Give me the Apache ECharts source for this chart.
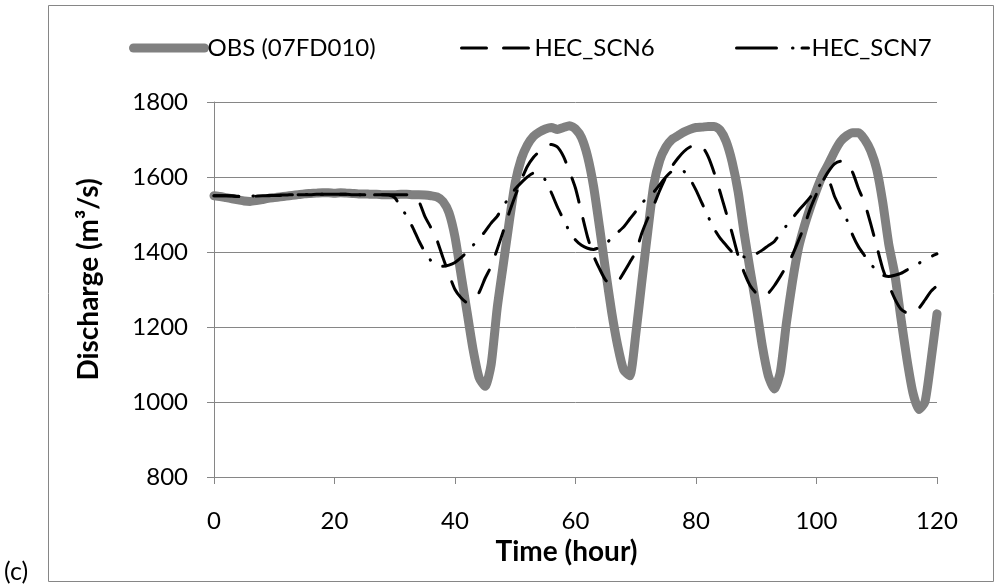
<!DOCTYPE html>
<html>
<head>
<meta charset="utf-8">
<script src="https://cdn.jsdelivr.net/npm/echarts@6/dist/echarts.min.js"></script>
<style>html,body{margin:0;padding:0;background:#fff}#c{width:997px;height:588px}</style>
</head>
<body>
<div id="c"></div>
<script>
var hours = [0,1,2,3,4,5,6,7,8,9,10,11,12,13,14,15,16,17,18,19,20,21,22,23,24,25,26,27,28,29,30,31,32,33,34,35,36,37,38,39,40,41,42,43,44,45,46,47,48,49,50,51,52,53,54,55,56,57,58,59,60,61,62,63,64,65,66,67,68,69,70,71,72,73,74,75,76,77,78,79,80,81,82,83,84,85,86,87,88,89,90,91,92,93,94,95,96,97,98,99,100,101,102,103,104,105,106,107,108,109,110,111,112,113,114,115,116,117,118,119,120];

var obs = [1550,1548,1545,1542,1539,1536,1535,1537,1540,1543,1545,1547,1549,1551,1553,1555,1556,1557,1558,1558,1557,1558,1557,1556,1555,1555,1554,1554,1553,1553,1553,1554,1554,1553,1553,1552,1550,1547,1535,1505,1440,1340,1240,1140,1065,1042,1100,1250,1365,1480,1585,1648,1685,1708,1720,1728,1732,1727,1732,1737,1728,1705,1655,1575,1465,1350,1240,1150,1085,1070,1180,1320,1455,1580,1645,1680,1700,1710,1720,1727,1732,1733,1735,1735,1725,1695,1640,1560,1450,1350,1255,1150,1070,1035,1080,1210,1320,1410,1470,1520,1565,1605,1635,1668,1695,1710,1718,1718,1700,1670,1620,1532,1420,1340,1225,1115,1025,980,1000,1110,1235];

var scn6 = [1550,1550,1550,1549,1548,1548,1548,1549,1550,1550,1551,1551,1552,1552,1553,1553,1553,1554,1554,1554,1554,1554,1554,1553,1553,1553,1553,1553,1553,1553,1553,1553,1553,1548,1535,1495,1465,1432,1385,1340,1300,1278,1265,1275,1292,1330,1362,1407,1455,1505,1550,1592,1628,1652,1668,1680,1687,1680,1655,1615,1570,1505,1440,1390,1355,1325,1315,1320,1345,1372,1400,1450,1490,1525,1565,1600,1628,1650,1668,1680,1686,1682,1655,1612,1560,1505,1450,1390,1345,1310,1290,1281,1290,1310,1335,1362,1392,1430,1470,1517,1555,1588,1615,1635,1642,1635,1612,1568,1530,1475,1415,1355,1312,1275,1248,1238,1238,1250,1272,1295,1310];

var scn7 = [1550,1550,1550,1550,1549,1549,1549,1550,1550,1551,1551,1552,1552,1553,1553,1553,1554,1554,1554,1554,1554,1554,1554,1553,1553,1553,1553,1553,1553,1552,1545,1520,1495,1465,1430,1400,1377,1365,1362,1365,1372,1385,1400,1418,1435,1455,1477,1495,1522,1546,1568,1585,1600,1610,1608,1592,1558,1520,1487,1455,1432,1418,1410,1407,1412,1422,1437,1452,1467,1488,1508,1530,1546,1560,1580,1600,1615,1617,1615,1595,1565,1530,1495,1462,1437,1418,1400,1390,1387,1388,1395,1405,1417,1428,1450,1470,1490,1510,1528,1547,1568,1585,1588,1548,1515,1487,1445,1413,1390,1368,1350,1338,1335,1338,1343,1352,1362,1370,1380,1388,1395];

var seriesNames = ['OBS (07FD010)', 'HEC_SCN6', 'HEC_SCN7'];
var xTitle = 'Time (hour)';
var yTitle = 'Discharge (m\u00b3/s)';
var panelLabel = '(c)';

function pairs(vals) { return hours.map(function (h, i) { return [h, vals[i]]; }); }

var FONT = 'Lato';
var GRAY = '#868686';
var chart = echarts.init(document.getElementById('c'), null, {renderer: 'canvas'});

function legendFor(name, left, width, lw, dash) {
  return {
    data: [name], left: left, top: 36, itemWidth: width, itemHeight: 14, itemGap: 0,
    padding: 0,
    lineStyle: {width: lw, type: dash, cap: 'round'},
    itemStyle: {color: 'rgba(0,0,0,0)', borderWidth: 0, opacity: 0},
    textStyle: {fontFamily: FONT, fontSize: 24, color: '#000', padding: [0, 0, 0, -2]},
    selectedMode: false
  };
}

chart.setOption({
  animation: false,
  backgroundColor: '#fff',
  textStyle: {fontFamily: FONT},
  graphic: [
    {type: 'rect', shape: {x: 48.5, y: 5.5, width: 945, height: 576}, style: {fill: 'none', stroke: GRAY, lineWidth: 1}, z: -1},
    {type: 'text', left: 4, top: 559, style: {text: panelLabel, font: '25px Lato', fill: '#000'}}
  ],
  legend: [
    legendFor(seriesNames[0], 129, 71, 9, 'solid'),
    legendFor(seriesNames[1], 460, 70, 3, [25, 17]),
    legendFor(seriesNames[2], 735, 72, 3, [40, 16, 0.5, 9])
  ],
  grid: {left: 214, right: 60, top: 102, bottom: 111, containLabel: false},
  xAxis: {
    type: 'value', min: 0, max: 120, interval: 20,
    name: xTitle, nameLocation: 'middle', nameGap: 60,
    nameTextStyle: {fontFamily: FONT, fontSize: 28, fontWeight: 'bold', color: '#000', padding: [0, 18, 0, 0]},
    axisLine: {show: true, lineStyle: {color: GRAY, width: 1}},
    axisTick: {show: true, inside: false, length: 7, lineStyle: {color: GRAY}},
    axisLabel: {fontFamily: FONT, fontSize: 24, color: '#000', margin: 32},
    splitLine: {show: false}
  },
  yAxis: {
    type: 'value', min: 800, max: 1800, interval: 200,
    name: yTitle, nameLocation: 'middle', nameGap: 111,
    nameTextStyle: {fontFamily: FONT, fontSize: 28, fontWeight: 'bold', color: '#000', padding: [0, 0, 0, 20]},
    axisLine: {show: true, lineStyle: {color: GRAY, width: 1}},
    axisTick: {show: true, inside: false, length: 7, lineStyle: {color: GRAY}},
    axisLabel: {fontFamily: FONT, fontSize: 24, color: '#000', margin: 26, formatter: function (v) { return String(v); }},
    splitLine: {show: true, lineStyle: {color: GRAY, width: 1}}
  },
  series: [
    {name: seriesNames[0], type: 'line', data: pairs(obs), symbol: 'none', smooth: 0.2,
     lineStyle: {color: '#808080', width: 9, cap: 'round', join: 'round'}, itemStyle: {color: '#808080'}, z: 2},
    {name: seriesNames[1], type: 'line', data: pairs(scn6), symbol: 'none', smooth: 0.2,
     lineStyle: {color: '#000', width: 3, type: [25, 17], cap: 'round', join: 'round'}, itemStyle: {color: '#000'}, z: 3},
    {name: seriesNames[2], type: 'line', data: pairs(scn7), symbol: 'none', smooth: 0.2,
     lineStyle: {color: '#000', width: 3, type: [25, 14, 0.5, 14], cap: 'round', join: 'round'}, itemStyle: {color: '#000'}, z: 4}
  ]
});
</script>
</body>
</html>
